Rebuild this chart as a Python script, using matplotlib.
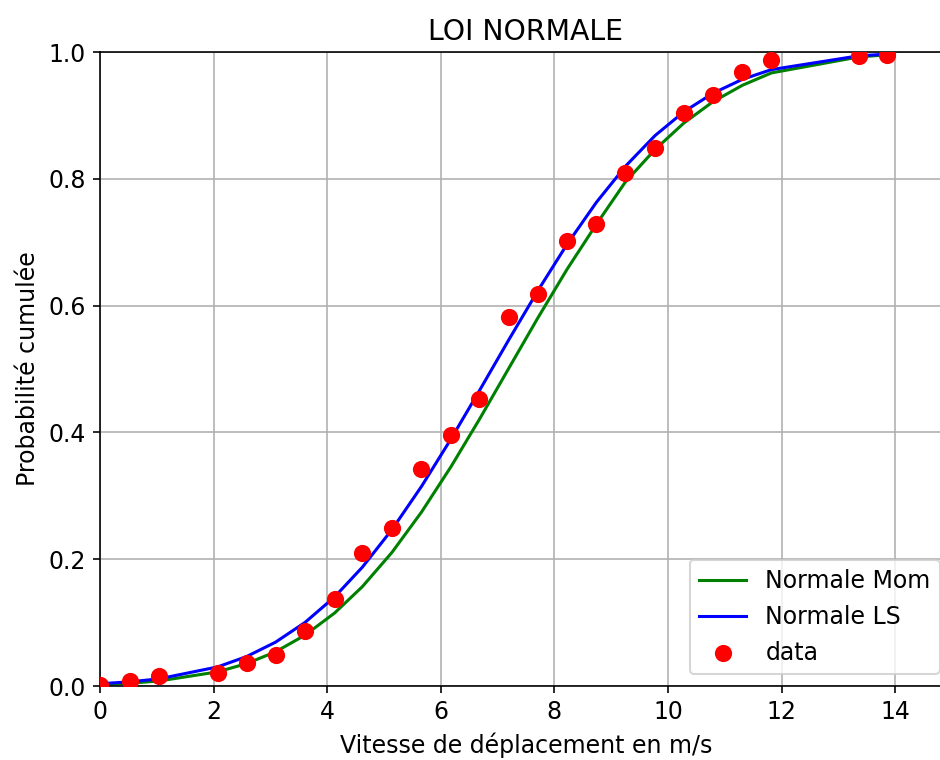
import numpy as np
import matplotlib
matplotlib.use("Agg")
import matplotlib.pyplot as plt

# vitesses (m/s) et probabilites cumulees
vitesse = [0.0, 0.53, 1.04, 2.07, 2.58, 3.09, 3.61, 4.13, 4.62, 5.14, 5.66, 6.18, 6.68,
           7.20, 7.71, 8.22, 8.74, 9.25, 9.77, 10.28, 10.79, 11.31, 11.82, 13.36, 13.86]
proba_data = [0.002, 0.008, 0.015, 0.020, 0.037, 0.049, 0.086, 0.138, 0.210, 0.250, 0.342, 0.396, 0.453,
              0.582, 0.618, 0.702, 0.729, 0.809, 0.848, 0.903, 0.932, 0.969, 0.987, 0.993, 0.995]

# courbes ajustees (methode des moments et moindres carres)
normale_mom = [0.0024, 0.0045, 0.0079, 0.0223, 0.0353, 0.0539, 0.0802, 0.1151, 0.1568, 0.2107, 0.2743,
               0.3460, 0.4207, 0.5016, 0.5808, 0.6569, 0.7284, 0.7950, 0.8460, 0.8880, 0.9215, 0.9475,
               0.9670, 0.9922, 0.9956]
normale_ls = [0.0036, 0.0066, 0.0113, 0.0301, 0.0464, 0.0691, 0.1003, 0.1405, 0.1875, 0.2467, 0.3148,
              0.3897, 0.4659, 0.5465, 0.6237, 0.6963, 0.7630, 0.8197, 0.8680, 0.9058, 0.9349, 0.9569,
              0.9722, 0.9940, 0.9966]

plt.rcParams['font.size'] = 11.6

fig = plt.figure(figsize=(940 / 147, 760 / 147), dpi=147)
ax = fig.add_axes([100 / 940, 74 / 760, 852 / 940, 634 / 760])

ax.plot(vitesse, normale_mom, color='green', label='Normale Mom')
ax.plot(vitesse, normale_ls, color='blue', label='Normale LS')
ax.scatter(vitesse, proba_data, color='red', s=55, label='data', zorder=3)

ax.set_xlim(0, 15)
ax.set_ylim(0, 1)
ax.set_xticks(np.arange(0, 15, 2))
ax.set_title('LOI NORMALE')
ax.set_xlabel('Vitesse de déplacement en m/s')
ax.set_ylabel('Probabilité cumulée')
ax.legend(loc='lower right')
ax.grid(True)

fig.savefig('out.png', dpi=147)
